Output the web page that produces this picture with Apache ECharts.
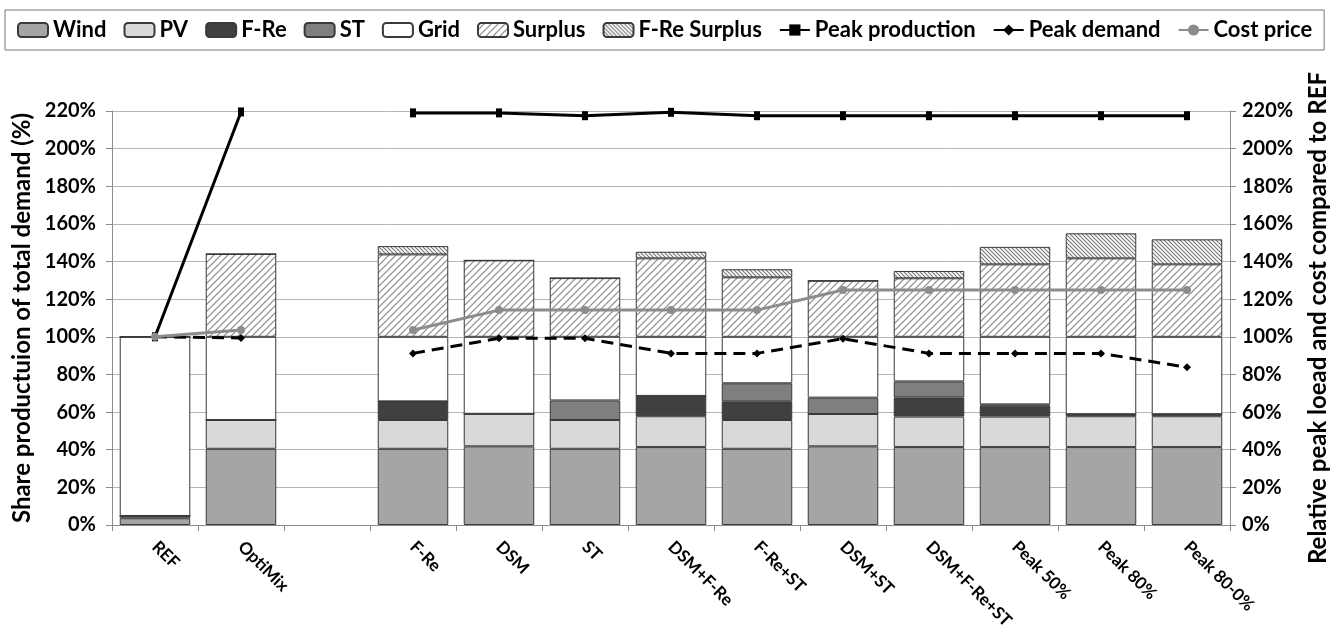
<!DOCTYPE html>
<html>
<head>
<meta charset="utf-8">
<script src="https://cdn.jsdelivr.net/npm/echarts@6/dist/echarts.min.js"></script>
<style>
html,body{margin:0;padding:0;background:#fff;}
#chart{width:1338px;height:628px;}
</style>
</head>
<body>
<div id="chart"></div>
<script>
const categories = ['REF','OptiMix','','F-Re','DSM','ST','DSM+F-Re','F-Re+ST','DSM+ST','DSM+F-Re+ST','Peak 50%','Peak 80%','Peak 80-0%'];
const wind       = [3.6, 40.5, null, 40.5, 41.8, 40.5, 41.4, 40.5, 41.8, 41.4, 41.4, 41.4, 41.4];
const pv         = [1.2, 15.3, null, 15.3, 17.3, 15.3, 16.4, 15.3, 17.2, 16.2, 16.2, 16.4, 16.4];
const fRe        = [0, 0, null, 9.9, 0, 0, 10.8, 9.9, 0, 10.2, 5.8, 1.1, 1.1];
const st         = [0, 0, null, 0, 0, 10.4, 0, 9.6, 8.7, 8.5, 0.7, 0, 0];
const gridShare  = [95.2, 44.2, null, 34.3, 40.9, 33.8, 31.4, 24.7, 32.3, 23.7, 35.9, 41.1, 41.1];
const surplus    = [0, 44.0, null, 43.8, 40.6, 31.2, 41.7, 31.6, 29.8, 31.1, 38.5, 41.7, 38.5];
const fReSurplus = [0, 0, null, 4.4, 0, 0, 3.5, 4.3, 0, 3.9, 9.3, 13.3, 13.3];
const peakProduction = [100, 219.5, null, 219, 219, 217.5, 219.3, 217.5, 217.5, 217.5, 217.5, 217.5, 217.5];
const peakDemand     = [100, 99.4, null, 91.2, 99.2, 99.2, 91.2, 91.2, 99.0, 91.2, 91.2, 91.2, 83.8];
const costPrice      = [100, 103.6, null, 103.6, 114.2, 114.2, 114.2, 114.2, 124.9, 124.9, 124.9, 124.9, 124.9];
const axisTicks = [0, 220, 20];

function hatch(size, color, lw, dir) {
  const c = document.createElement('canvas');
  c.width = size; c.height = size;
  const g = c.getContext('2d');
  g.fillStyle = '#fff'; g.fillRect(0, 0, size, size);
  g.strokeStyle = color; g.lineWidth = lw;
  g.beginPath();
  if (dir > 0) {
    g.moveTo(0, size); g.lineTo(size, 0);
    g.moveTo(-size/2, size/2); g.lineTo(size/2, -size/2);
    g.moveTo(size/2, size*1.5); g.lineTo(size*1.5, size/2);
  } else {
    g.moveTo(0, 0); g.lineTo(size, size);
    g.moveTo(-size/2, size/2); g.lineTo(size/2, size*1.5);
    g.moveTo(size/2, -size/2); g.lineTo(size*1.5, size/2);
  }
  g.stroke();
  return c;
}
const surplusFill = {image: hatch(7, '#8a8a8a', 1.2, 1), repeat: 'repeat'};
const fReSurplusFill = {image: hatch(4, '#777', 1.1, -1), repeat: 'repeat'};

const FONT = 'Lato';
const border = {borderColor: '#3a3a3a', borderWidth: 1};
function bar(name, data, color) {
  return {name, type: 'bar', stack: 'total', data, barCategoryGap: '18%',
    itemStyle: Object.assign({color}, border), emphasis: {disabled: true}};
}

const chart = echarts.init(document.getElementById('chart'));
chart.setOption({
  animation: false,
  textStyle: {fontFamily: FONT},
  legend: {
    top: 10, left: 5,
    padding: [9, 12, 9, 12],
    borderColor: '#777', borderWidth: 1,
    itemWidth: 30, itemHeight: 14, itemGap: 17,
    textStyle: {fontFamily: FONT, fontWeight: 'bold', fontSize: 22, color: '#000'},
    data: ['Wind','PV','F-Re','ST','Grid','Surplus','F-Re Surplus','Peak production','Peak demand','Cost price']
  },
  grid: {left: 112, right: 108, top: 111, bottom: 103, outerBoundsMode: 'none', containLabel: false},
  xAxis: {
    type: 'category', data: categories,
    axisLine: {lineStyle: {color: '#8c8c8c'}},
    axisTick: {show: true, length: 6, lineStyle: {color: '#8c8c8c'}},
    axisLabel: {interval: 0, rotate: -45, margin: 19, fontFamily: FONT, fontWeight: 'bold', fontSize: 17, color: '#000'}
  },
  yAxis: [{
    type: 'value', min: axisTicks[0], max: axisTicks[1], interval: axisTicks[2],
    name: 'Share productuion of total demand (%)', nameLocation: 'middle', nameGap: 76, nameRotate: 90,
    nameTextStyle: {fontFamily: FONT, fontWeight: 'bold', fontSize: 24, color: '#000'},
    axisLine: {show: true, lineStyle: {color: '#8c8c8c'}},
    axisTick: {show: true, length: 6, lineStyle: {color: '#8c8c8c'}},
    splitLine: {lineStyle: {color: '#b5b5b5'}},
    axisLabel: {formatter: '{value}%', margin: 16, fontFamily: FONT, fontWeight: 'bold', fontSize: 20, color: '#000'}
  }, {
    type: 'value', min: axisTicks[0], max: axisTicks[1], interval: axisTicks[2], position: 'right',
    name: 'Relative peak loead and cost compared to REF', nameLocation: 'middle', nameGap: 76, nameRotate: 90,
    nameTextStyle: {fontFamily: FONT, fontWeight: 'bold', fontSize: 24, color: '#000'},
    axisLine: {show: true, lineStyle: {color: '#8c8c8c'}},
    axisTick: {show: true, length: 6, lineStyle: {color: '#8c8c8c'}},
    splitLine: {show: false},
    axisLabel: {formatter: '{value}%', margin: 12, fontFamily: FONT, fontWeight: 'bold', fontSize: 20, color: '#000'}
  }],
  series: [
    bar('Wind', wind, '#a5a5a5'),
    bar('PV', pv, '#d9d9d9'),
    bar('F-Re', fRe, '#404040'),
    bar('ST', st, '#7f7f7f'),
    bar('Grid', gridShare, '#ffffff'),
    bar('Surplus', surplus, surplusFill),
    bar('F-Re Surplus', fReSurplus, fReSurplusFill),
    {name: 'Peak production', type: 'line', yAxisIndex: 1, data: peakProduction,
      symbol: 'rect', symbolSize: [6, 9], connectNulls: false,
      lineStyle: {color: '#000', width: 3}, itemStyle: {color: '#000'}, emphasis: {disabled: true}},
    {name: 'Peak demand', type: 'line', yAxisIndex: 1, data: peakDemand,
      symbol: 'diamond', symbolSize: 8, connectNulls: false,
      lineStyle: {color: '#000', width: 3, type: [12, 7]}, itemStyle: {color: '#000'}, emphasis: {disabled: true}},
    {name: 'Cost price', type: 'line', yAxisIndex: 1, data: costPrice,
      symbol: 'circle', symbolSize: 8, connectNulls: false,
      lineStyle: {color: '#8c8c8c', width: 3}, itemStyle: {color: '#8c8c8c'}, emphasis: {disabled: true}}
  ]
});
</script>
</body>
</html>
